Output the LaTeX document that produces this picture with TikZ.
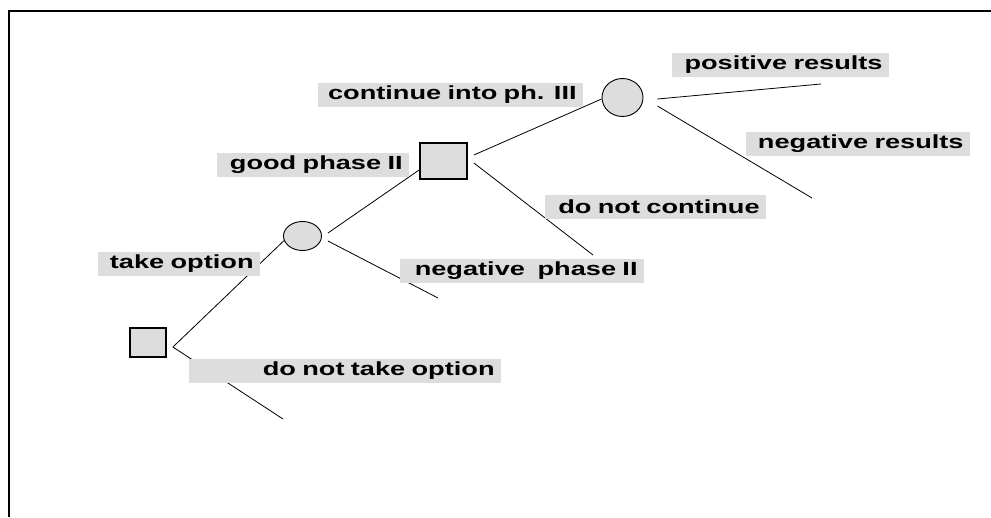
\documentclass[tikz,border=0pt]{standalone}
\usepackage{fontspec}
\newfontfamily\labelfont{Liberation Sans}[FakeStretch=1.43]
\usetikzlibrary{shapes.geometric,calc}
\definecolor{boxgray}{RGB}{221,221,221}
\tikzset{
    every picture/.style={line width=0.8pt},
    decision/.style={rectangle,draw,fill=boxgray,line width=1.8pt,inner sep=0pt},
    chance/.style={ellipse,draw,fill=boxgray,line width=0.9pt,inner sep=0pt},
    branch/.style={fill=boxgray,inner xsep=6pt,inner ysep=0pt,minimum height=24pt,
        align=right,anchor=east,font=\labelfont\bfseries\fontsize{19}{22}\selectfont}
}

\begin{document}
\begin{tikzpicture}[x=1pt,y=-1pt]
    \useasboundingbox (0,0) rectangle (991,517);

    % Frame
    \draw[line width=2pt] (9,517) -- (9,11) -- (991,11);

    % Decision and chance nodes
    \node[decision,minimum width=36pt,minimum height=29pt] (opt) at (148,342.5) {};
    \node[chance,minimum width=38pt,minimum height=29pt] (ph2) at (302.5,236) {};
    \node[decision,minimum width=47pt,minimum height=36pt] (cont) at (443.5,161) {};
    \node[chance,minimum width=41pt,minimum height=38pt] (ph3) at (622.5,97.5) {};

    % Free ends
    \coordinate (notake) at (283,419);
    \coordinate (neg2) at (438,298);
    \coordinate (stop) at (593,255);
    \coordinate (pos3) at (821,84);
    \coordinate (neg3) at (812,198);

    % Branches
    \draw ([xshift=6pt,yshift=-4.5pt]opt.east) -- (ph2.194);
    \draw ([xshift=6pt,yshift=-4.5pt]opt.east) -- (notake);
    \draw ([xshift=6pt,yshift=3pt]ph2.east) -- ([yshift=-9pt]cont.west);
    \draw ([xshift=6pt,yshift=-5pt]ph2.east) -- (neg2);
    \draw ([xshift=6pt,yshift=6pt]cont.east) -- ([yshift=-1.5pt]ph3.west);
    \draw ([xshift=6pt,yshift=-2pt]cont.east) -- (stop);
    \draw ([xshift=14pt,yshift=-1.5pt]ph3.east) -- (pos3);
    \draw ([xshift=14pt,yshift=-8.5pt]ph3.east) -- (neg3);

    % Branch labels
    \node[branch,text width=205pt] (lpos) at (889,65) {positive results};
    \node[branch,text width=212pt] (lneg3) at (970,143.5) {negative results};
    \node[branch,text width=253pt] (lcont) at (583,94.5) {continue into ph. III};
    \node[branch,text width=180pt] (lgood) at (409,164.5) {good phase II};
    \node[branch,text width=232pt] (lneg2) at (644,271) {negative\ \ phase II};
    \node[branch,text width=209pt] (lstop) at (766,207) {do not continue};
    \node[branch,text width=150pt] (ltake) at (260,264) {take option};
    \node[branch,text width=300pt] (lnotake) at (501,370.5) {do not take option};
\end{tikzpicture}
\end{document}
